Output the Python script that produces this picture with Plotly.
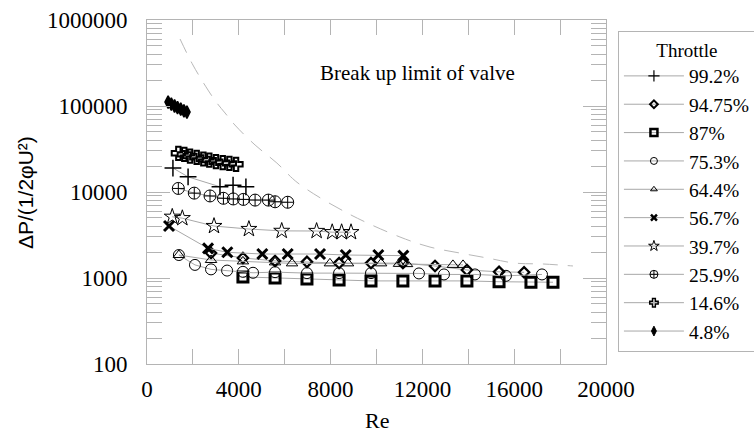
import plotly.graph_objects as go

# ---- data ----
series_names = ["99.2%", "94.75%", "87%", "75.3%", "64.4%", "56.7%", "39.7%", "25.9%", "14.6%", "4.8%"]

re_992 = [1130, 1790, 3180, 3750, 4310]
dp_992 = [19000, 15000, 11500, 12000, 11500]

re_9475 = [2790, 4180, 5580, 6970, 8370, 9760, 11150, 12550, 13940, 15340, 16430]
dp_9475 = [1950, 1710, 1580, 1540, 1490, 1490, 1490, 1380, 1240, 1180, 1165]

re_87 = [4180, 5580, 6970, 8370, 9760, 11150, 12550, 13940, 15340, 16730, 17690]
dp_87 = [1030, 1000, 975, 950, 925, 925, 925, 925, 905, 893, 893]

re_753 = [1390, 2090, 2790, 3490, 4180, 4620, 5580, 6970, 8370, 9760, 11850, 12940, 14290, 15640, 17210]
dp_753 = [1850, 1420, 1260, 1220, 1180, 1150, 1170, 1140, 1140, 1140, 1130, 1100, 1100, 1060, 1100]

re_644 = [1390, 2790, 4180, 5580, 6320, 7970, 8760, 10200, 10980, 11330, 13330, 13770]
dp_644 = [1850, 1620, 1560, 1520, 1480, 1480, 1480, 1480, 1460, 1450, 1420, 1420]

re_567 = [960, 2660, 3500, 5025, 6130, 7540, 8660, 10080, 11170]
dp_567 = [4020, 2210, 1990, 1900, 1900, 1900, 1850, 1850, 1820]

re_397 = [1100, 1540, 2920, 4440, 5870, 7390, 8070, 8480, 8890]
dp_397 = [5150, 4960, 4020, 3710, 3530, 3520, 3410, 3410, 3410]

re_259 = [1365, 2060, 2745, 3330, 3760, 4200, 4710, 5290, 5580, 6130]
dp_259 = [11000, 9700, 9000, 8450, 8300, 8200, 8050, 8050, 7700, 7600]

re_146 = [1365, 1625, 1875, 2165, 2455, 2715, 3005, 3300, 3590, 3880]
dp_146 = [28200, 27400, 26200, 25300, 24200, 23500, 22500, 21900, 21500, 21000]

re_48 = [920, 1060, 1200, 1330, 1470, 1610, 1740]
dp_48 = [111000, 105000, 100000, 96000, 92000, 88000, 85000]

re_limit = [1440, 2000, 2660, 3050, 3400, 3830, 4710, 5660, 6580, 8720, 11020, 12330, 13640, 14820, 16040, 17260, 18560]
dp_limit = [601000, 300000, 153000, 108000, 83000, 60100, 35200, 21700, 12700, 5700, 3000, 2290, 1950, 1710, 1490, 1455, 1380]

x_ticks = [0, 4000, 8000, 12000, 16000, 20000]
x_ticklabels = ["0", "4000", "8000", "12000", "16000", "20000"]
y_ticks = [100, 1000, 10000, 100000, 1000000]
y_ticklabels = ["100", "1000", "10000", "100000", "1000000"]

annotation_text = "Break up limit of valve"
legend_title = "Throttle"
x_title = "Re"
y_title = "ΔP/(1/2φU²)"

# ---- styles ----
SERIF = "'Liberation Serif', 'Times New Roman', Times, serif"
SANS = "'Liberation Sans', Arial, sans-serif"
AXIS_GRAY = "#b4b4b4"
LINE_GRAY = "#a8a8a8"

styles = [
    dict(symbol="cross-thin-open", size=12, lw=1.5, lsize=8, llw=1.2),
    dict(symbol="diamond-open", size=8, lw=2.2, lsize=6, llw=2),
    dict(symbol="square-open", size=10, lw=3, lsize=7, llw=2.5),
    dict(symbol="circle-open", size=11, lw=1, lsize=7, llw=1),
    dict(symbol="triangle-up-open", size=10, lw=1, lsize=6, llw=1),
    dict(symbol="x-thin-open", size=10, lw=3, lsize=6, llw=2.5),
    dict(symbol="star-open", size=12, lw=1, lsize=8, llw=1),
    dict(symbol="circle-cross-open", size=12, lw=1, lsize=8, llw=1),
    dict(symbol="cross-open", size=11, lw=2, lsize=7, llw=1.5),
    dict(symbol="diamond-tall", size=9, lw=1.5, lsize=7, llw=1),
]

all_re = [re_992, re_9475, re_87, re_753, re_644, re_567, re_397, re_259, re_146, re_48]
all_dp = [dp_992, dp_9475, dp_87, dp_753, dp_644, dp_567, dp_397, dp_259, dp_146, dp_48]

fig = go.Figure()

# break-up limit curve
fig.add_trace(go.Scatter(
    x=re_limit, y=dp_limit, mode="lines", showlegend=False,
    line=dict(color="#b8b8b8", width=1, dash="15px,10px", shape="spline"),
    hoverinfo="skip"))

for name, xs, ys, st in zip(series_names, all_re, all_dp, styles):
    fig.add_trace(go.Scatter(
        x=xs, y=ys, mode="lines+markers", name=name, showlegend=False,
        line=dict(color=LINE_GRAY, width=1),
        marker=dict(symbol=st["symbol"], size=st["size"], color="black",
                    line=dict(color="black", width=st["lw"]))))

# legend entries (smaller markers, as in the reference legend)
for i, (name, st) in enumerate(zip(series_names, styles)):
    fig.add_trace(go.Scatter(
        x=[None], y=[None], mode="lines+markers", name=name, showlegend=True,
        legendgroup=f"g{i}",
        line=dict(color=LINE_GRAY, width=1),
        marker=dict(symbol=st["symbol"], size=st["lsize"], color="black",
                    line=dict(color="black", width=st["llw"]))))

minor_y = [m * 10 ** e for e in range(2, 6) for m in range(2, 10)]

fig.update_layout(
    width=754, height=432,
    margin=dict(l=147, r=148, t=20, b=68, autoexpand=False),
    paper_bgcolor="white", plot_bgcolor="white",
    font=dict(family=SERIF, color="black"),
    showlegend=True,
    legend=dict(
        x=1.026, y=0.968, xanchor="left", yanchor="top",
        bordercolor=AXIS_GRAY, borderwidth=1, bgcolor="white",
        font=dict(family=SERIF, size=19.5, color="black"),
        title=dict(text=legend_title, side="top center",
                   font=dict(family=SERIF, size=19, color="black")),
        itemwidth=60, tracegroupgap=0, itemclick=False),
    xaxis=dict(
        range=[0, 20000], tickmode="array", tickvals=x_ticks, ticktext=x_ticklabels,
        ticks="inside", ticklen=15, tickcolor=AXIS_GRAY, tickwidth=1,
        minor=dict(dtick=2000, tick0=0, ticks="inside", ticklen=15, tickcolor=AXIS_GRAY, showgrid=False),
        showline=True, linecolor=AXIS_GRAY, linewidth=1, mirror="ticks",
        showgrid=False, zeroline=False, automargin=False,
        tickfont=dict(family=SERIF, size=23, color="black"),
        ticklabelstandoff=4),
    yaxis=dict(
        type="log", range=[2, 6], tickmode="array", tickvals=y_ticks, ticktext=y_ticklabels,
        ticks="inside", ticklen=23, tickcolor=AXIS_GRAY, tickwidth=1,
        minor=dict(tickmode="array", tickvals=minor_y, ticks="inside", ticklen=15,
                   tickcolor=AXIS_GRAY, showgrid=False),
        showline=True, linecolor=AXIS_GRAY, linewidth=1, mirror="ticks",
        showgrid=False, zeroline=False, automargin=False,
        tickfont=dict(family=SERIF, size=23, color="black"),
        ticklabelstandoff=14),
    annotations=[
        dict(text=annotation_text, xref="paper", yref="paper", x=0.5904, y=0.846,
             xanchor="center", yanchor="middle",
             showarrow=False, font=dict(family=SERIF, size=21, color="black")),
        dict(text=x_title, xref="paper", yref="paper", x=0.5, y=-0.163,
             xanchor="center", yanchor="middle",
             showarrow=False, font=dict(family=SERIF, size=22, color="black")),
        dict(text=y_title, xref="paper", yref="paper", x=-0.2658, y=0.5, textangle=-90,
             xanchor="center", yanchor="middle",
             showarrow=False, font=dict(family=SANS, size=21, color="black")),
    ],
)

fig.write_html("out.html", config={"displayModeBar": False, "staticPlot": True},
               post_script="document.body.style.margin='0';")
